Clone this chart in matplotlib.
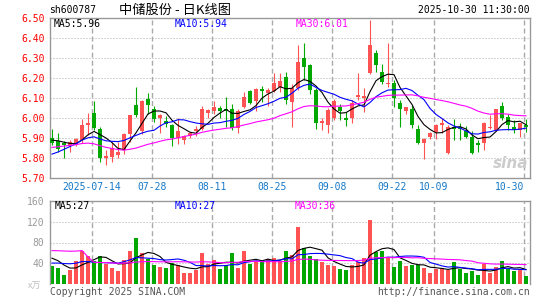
import matplotlib
matplotlib.use('Agg')
import matplotlib.pyplot as plt
import numpy as np
import pandas as pd

# daily candles, 2025-07-03 .. 2025-10-30
opens = [5.90, 5.885, 5.875, 5.865, 5.87, 5.89, 5.965, 6.025, 5.945, 5.80,
         5.805, 5.815, 5.84, 5.92, 6.065, 5.935, 6.095, 6.045, 6.0, 5.985,
         5.965, 5.90, 5.89, 5.912, 5.935, 5.945, 6.027, 6.033, 6.048, 6.045,
         6.045, 5.948, 6.057, 6.135, 6.085, 6.143, 6.127, 6.137, 6.157, 6.205,
         6.078, 6.15, 6.30, 6.265, 6.14, 5.975, 5.965, 6.0, 6.057, 6.0,
         6.0, 6.107, 6.10, 6.223, 6.323, 6.232, 6.17, 6.173, 6.077, 6.037,
         6.045, 5.945, 5.877, 5.903, 5.932, 5.965, 5.823, 5.953, 5.957, 5.937,
         5.907, 5.873, 5.873, 5.948, 5.94, 6.06, 6.007, 5.957, 5.94, 5.965]
highs = [5.945, 5.925, 5.885, 5.89, 5.90, 5.995, 6.025, 6.085, 5.955, 5.84,
         5.88, 5.88, 5.925, 6.015, 6.155, 6.09, 6.125, 6.06, 6.02, 6.01,
         5.97, 6.0, 5.915, 5.93, 5.96, 6.06, 6.045, 6.085, 6.06, 6.107,
         6.07, 6.045, 6.132, 6.14, 6.15, 6.16, 6.15, 6.223, 6.225, 6.23,
         6.17, 6.365, 6.375, 6.27, 6.15, 6.0, 6.05, 6.095, 6.07, 6.03,
         6.09, 6.223, 6.15, 6.49, 6.34, 6.27, 6.373, 6.19, 6.09, 6.057,
         6.065, 5.965, 5.90, 5.93, 5.97, 5.998, 5.965, 5.993, 5.975, 5.96,
         5.935, 5.89, 5.98, 6.015, 6.045, 6.082, 6.02, 5.99, 5.975, 5.993]
lows = [5.865, 5.83, 5.80, 5.83, 5.86, 5.875, 5.915, 5.94, 5.78, 5.765,
        5.78, 5.80, 5.82, 5.88, 6.005, 5.92, 6.02, 5.98, 5.925, 5.955,
        5.86, 5.87, 5.87, 5.898, 5.91, 5.94, 6.0, 6.02, 6.0, 5.955,
        5.94, 5.923, 6.05, 6.07, 6.035, 6.08, 6.06, 6.13, 6.13, 6.07,
        5.955, 6.14, 6.19, 6.12, 5.945, 5.94, 5.925, 5.99, 5.99, 5.96,
        5.975, 6.09, 6.03, 6.22, 6.232, 6.17, 6.157, 6.053, 5.953, 6.02,
        5.948, 5.87, 5.793, 5.893, 5.893, 5.923, 5.82, 5.89, 5.89, 5.90,
        5.82, 5.83, 5.84, 5.945, 5.935, 5.99, 5.94, 5.925, 5.903, 5.93]
closes = [5.875, 5.845, 5.865, 5.88, 5.895, 5.965, 5.975, 5.95, 5.80, 5.81,
          5.85, 5.83, 5.92, 6.015, 6.015, 6.085, 6.065, 5.995, 6.015, 5.97,
          5.90, 5.935, 5.912, 5.927, 5.945, 6.045, 6.04, 6.057, 6.037, 6.037,
          5.948, 6.035, 6.107, 6.077, 6.143, 6.135, 6.14, 6.177, 6.187, 6.09,
          6.15, 6.28, 6.255, 6.14, 5.975, 5.985, 6.04, 6.085, 6.035, 5.99,
          6.075, 6.117, 6.11, 6.365, 6.265, 6.178, 6.177, 6.098, 6.045, 6.053,
          5.965, 5.877, 5.893, 5.927, 5.965, 5.973, 5.957, 5.945, 5.943, 5.907,
          5.823, 5.865, 5.973, 5.957, 6.043, 5.998, 5.965, 5.94, 5.973, 5.957]
# volume, 10k shares
volumes = [35.5, 31, 18, 28, 44, 64.5, 55, 44, 55, 39,
           32, 24.5, 47, 63, 88, 59, 48, 37, 34, 32,
           41, 36, 22.5, 22.5, 26.5, 59, 39, 47, 30, 36,
           59, 32, 64.5, 39, 45, 44, 49, 50, 44, 63,
           57, 110, 70, 55, 49, 42, 37, 35.5, 30, 26.5,
           37, 42, 50, 123, 61, 64.5, 50, 34, 44, 35.5,
           37, 37, 32, 22.5, 30, 30, 28, 42, 29, 22.5,
           24.5, 18, 39, 22.5, 33, 45, 30, 24.5, 26.5, 16]
# sessions before the window, only feed the moving averages
prior_closes = [5.74, 5.76, 5.78, 5.79, 5.79, 5.92, 6.05, 6.08, 6.06, 6.02,
                5.99, 6.01, 5.88, 5.84, 5.80, 5.78, 5.79, 5.77, 5.76, 5.78,
                5.74, 5.73, 5.74, 5.76, 5.78, 5.86, 5.90, 5.91, 5.90]
prior_volumes = [38, 35, 40, 36, 36.5, 420, 354, 60, 52, 48,
                 45, 40, 42, 44, 41, 38, 40, 43, 38, 38.5,
                 30, 28, 32, 33, 33, 55, 60, 57, 42.5]

tick_idx = [7, 17, 27, 37, 47, 57, 64, 79]
tick_labels = ['2025-07-14', '07-28', '08-11', '08-25', '09-08', '09-22', '10-09', '10-30']

RED = '#ff5252'
GREEN = '#00a800'
GRID = '#aaaaaa'
MONO = 'DejaVu Sans Mono'
CJK = ['Noto Sans CJK SC', 'DejaVu Sans']

n = len(closes)
x = np.arange(n)
o = np.array(opens)
c = np.array(closes)
h = np.array(highs)
l = np.array(lows)
v = np.array(volumes)
colors = [RED if cc >= oo else GREEN for oo, cc in zip(o, c)]

all_c = pd.Series(prior_closes + closes)
all_v = pd.Series(prior_volumes + volumes)
ma = {k: all_c.rolling(k).mean().values[-n:] for k in (5, 10, 30)}
vma = {k: all_v.rolling(k).mean().values[-n:] for k in (5, 10, 30)}
ma_cols = {5: 'black', 10: '#0000ff', 30: '#ff00ff'}

W, H = 545, 300
def box(left, top, right, bottom):
    return [left / W, 1 - bottom / H, (right - left) / W, (bottom - top) / H]

fig = plt.figure(figsize=(W / 100, H / 100), dpi=100)
ax = fig.add_axes(box(50, 18, 529.5, 178))
axv = fig.add_axes(box(50, 200.7, 529.5, 284.3))

grid_x = [i - 0.33 for i in tick_idx]
for a in (ax, axv):
    a.set_xlim(-0.333, 79.58)
    a.set_xticks(grid_x)
    a.grid(axis='x', color=GRID, lw=1.0, ls=(0, (3.6, 2.2)))
    a.grid(axis='y', color=GRID, lw=0.72, ls=(0, (1, 2)))
    a.set_axisbelow(True)
    a.tick_params(length=0)
    for s in a.spines.values():
        s.set_color('#999999')
        s.set_linewidth(1.0)

# price panel
body_lo = np.minimum(o, c)
body_h = np.maximum(np.abs(c - o), 0.004)
ax.vlines(x, l, h, colors=colors, lw=0.8, zorder=2)
ax.bar(x, body_h, bottom=body_lo, width=0.8, color=colors, lw=0, zorder=3)
for k in (5, 10, 30):
    ax.plot(x, ma[k], color=ma_cols[k], lw=0.8, zorder=4)
ax.set_ylim(5.70, 6.50)
ax.set_yticks(np.arange(5.70, 6.51, 0.10))
ax.set_yticklabels(['%.2f' % t for t in np.arange(5.70, 6.51, 0.10)],
                   color='#ff0000', family=MONO, fontsize=7)
ax.set_xticklabels(tick_labels, color='#1478c8', family=MONO, fontsize=7)
ax.get_xticklabels()[-1].set_ha('right')
ax.tick_params(axis='y', pad=4)
ax.tick_params(axis='x', pad=3)

# volume panel
axv.bar(x, v, width=0.82, color=colors, lw=0, zorder=2)
for k in (5, 10, 30):
    axv.plot(x, vma[k], color=ma_cols[k], lw=0.8, zorder=4)
axv.set_ylim(0, 160)
axv.set_yticks([40, 80, 120, 160])
axv.set_yticklabels(['40', '80', '120', '160'], color='#999999', family=MONO, fontsize=7)
axv.set_xticklabels([])
axv.spines['bottom'].set_visible(False)
axv.tick_params(axis='y', pad=4)

def ftext(px, py, s, **kw):
    kw.setdefault('family', MONO)
    kw.setdefault('fontsize', 7)
    kw.setdefault('va', 'center')
    fig.text(px / W, 1 - py / H, s, **kw)

ftext(49, 10, 'sh600787', color='black')
ftext(119, 10, '中储股份 - 日K线图', color='black', family=CJK, fontsize=9.5)
ftext(530, 10, '2025-10-30 11:30:00', color='black', ha='right')

ftext(54, 24, 'MA5:5.96', color='black')
ftext(175, 24, 'MA10:5.94', color='#0000ff')
ftext(296, 24, 'MA30:6.01', color='#ff00ff')

ftext(55, 206, 'MA5:27', color='black')
ftext(175, 206, 'MA10:27', color='#0000ff')
ftext(295, 206, 'MA30:36', color='#ff00ff')

ftext(28, 286, 'x万', color='#c0c0c0', family=CJK, fontsize=6.5, style='italic')
ftext(50, 292, 'Copyright 2025 SINA.COM', color='#555555')
ftext(530, 292, 'http://finance.sina.com.cn', color='#555555', ha='right')
ftext(528, 164, 'sina', color='#cccccc', family='DejaVu Sans', fontsize=11,
      weight='bold', style='italic', ha='right')

fig.savefig('out.png', dpi=100, facecolor='white')
